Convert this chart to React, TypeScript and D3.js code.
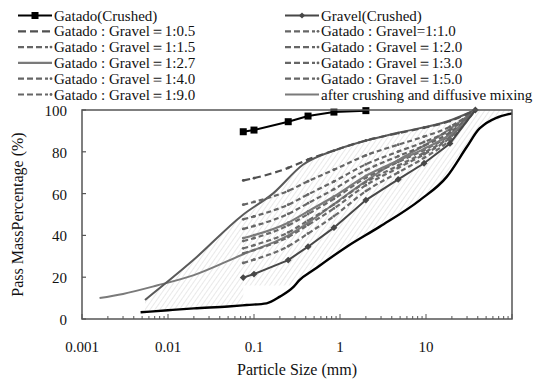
import React, { useRef, useEffect } from "react";
import * as d3 from "d3";

// sieve sizes (mm) used for the measured curves
const sieves = [0.075, 0.1, 0.25, 0.425, 0.85, 2, 4.75, 9.5, 19, 37.5];

const gatadoPass = [89.6, 90.4, 94.4, 97.1, 99, 99.7];
const gravelPass = [19.8, 21.5, 28.2, 34.6, 43.7, 56.9, 66.8, 74.5, 84, 100];

const mix05 = [66.3, 67.4, 72.3, 76.3, 80.6, 85.4, 88.9, 91.5, 94.7, 100];
const mix10 = [54.7, 56.0, 61.3, 65.9, 71.4, 78.3, 83.4, 87.3, 92.0, 100];
const mix15 = [47.7, 49.1, 54.7, 59.6, 65.8, 74.0, 80.1, 84.7, 90.4, 100];
const mix20 = [43.1, 44.5, 50.3, 55.4, 62.1, 71.2, 77.9, 83.0, 89.3, 100];
const mix27 = [38.7, 40.1, 46.1, 51.5, 58.6, 68.5, 75.8, 81.4, 88.3, 100];
const mix30 = [37.3, 38.7, 44.8, 50.2, 57.5, 67.6, 75.1, 80.9, 88.0, 100];
const mix40 = [33.8, 35.3, 41.4, 47.1, 54.8, 65.5, 73.4, 79.6, 87.2, 100];
const mix50 = [31.4, 33.0, 39.2, 45.0, 52.9, 64.0, 72.3, 78.8, 86.7, 100];
const mix90 = [26.8, 28.4, 34.8, 40.9, 49.2, 61.2, 70.1, 77.1, 85.6, 100];

// after crushing and diffusive mixing
const diffSize = [0.0016, 0.003, 0.0074, 0.02, 0.075, 0.25, 0.425, 0.85, 2, 4.75, 9.5, 19, 37.5];
const diffPass = [10, 12, 16, 21, 31, 40, 46, 55, 66, 76, 83, 91, 100];

// upper envelope of the shaded band
const upperSize = [0.0054, 0.0197, 0.074, 0.167, 0.37, 0.91, 2.2, 4.6, 19, 37.5];
const upperPass = [9.1, 28.2, 49.8, 60.1, 73.8, 81, 85.8, 89, 95, 100];

// lower black curve
const lowerSize = [0.0048, 0.01, 0.02, 0.05, 0.082, 0.14, 0.2, 0.29, 0.34, 0.49, 1.2, 2.9, 8.5, 17.4, 29.9, 42, 100];
const lowerPass = [3.2, 4.2, 5.1, 6, 6.7, 7.5, 10.7, 15.5, 18.7, 23.4, 34.6, 44.2, 56.9, 68, 82.4, 91.2, 98.4];

// shaded band outline
const bandTopSize = [0.0054, 0.0197, 0.074, 0.167, 0.37, 0.91, 2.2, 4.6, 19, 37.5, 100];
const bandTopPass = [9.1, 28.2, 49.8, 60.1, 73.8, 81, 85.8, 89, 95, 100, 100];
const bandBottomSize = [0.0054, 0.02, 0.075, 0.075, 0.29, 0.34, 0.49, 1.2, 2.9, 8.5, 17.4, 29.9, 42, 100];
const bandBottomPass = [3.4, 5.1, 6.5, 16, 16, 18.7, 23.4, 34.6, 44.2, 56.9, 68, 82.4, 91.2, 98.4];

const xTicks = [0.001, 0.01, 0.1, 1, 10];
const xTickLabels = ["0.001", "0.01", "0.1", "1", "10"];
const yTicks = [0, 20, 40, 60, 80, 100];

const leftLegend = [
  "Gatado(Crushed)",
  "Gatado : Gravel\uFF1D1:0.5",
  "Gatado : Gravel\uFF1D1:1.5",
  "Gatado : Gravel\uFF1D1:2.7",
  "Gatado : Gravel\uFF1D1:4.0",
  "Gatado : Gravel\uFF1D1:9.0",
];
const rightLegend = [
  "Gravel(Crushed)",
  "Gatado : Gravel=1:1.0",
  "Gatado : Gravel\uFF1D1:2.0",
  "Gatado : Gravel\uFF1D1:3.0",
  "Gatado : Gravel\uFF1D1:5.0",
  "after crushing and diffusive mixing",
];

const FONT = "Liberation Serif, DejaVu Serif, Times New Roman, serif";

const App = () => {
  const svgRef = useRef<SVGSVGElement>(null);

  useEffect(() => {
    const svg = d3.select(svgRef.current);
    svg.selectAll("*").remove();

    const width = 539;
    const height = 381;
    const margin = { top: 110, right: 27, bottom: 62, left: 82 };

    const x = d3.scaleLog().domain([0.001, 100]).range([margin.left, width - margin.right]);
    const y = d3.scaleLinear().domain([0, 100]).range([height - margin.bottom, margin.top]);

    svg.append("rect").attr("width", width).attr("height", height).attr("fill", "#fff");

    const defs = svg.append("defs");
    const pat = defs
      .append("pattern")
      .attr("id", "hatch")
      .attr("patternUnits", "userSpaceOnUse")
      .attr("width", 4)
      .attr("height", 4)
      .attr("patternTransform", "rotate(35)");
    pat.append("line")
      .attr("x1", 0).attr("y1", 0).attr("x2", 0).attr("y2", 4)
      .attr("stroke", "#dadada").attr("stroke-width", 1.2);

    const pts = (xs: number[], ys: number[]) => xs.map((d, i) => [d, ys[i]] as [number, number]);

    // shaded band
    const band = pts(bandTopSize, bandTopPass).concat(pts(bandBottomSize, bandBottomPass).reverse());
    svg.append("path")
      .attr("d", d3.line<[number, number]>().x((d) => x(d[0])).y((d) => y(d[1]))(band) + "Z")
      .attr("fill", "url(#hatch)");

    const smooth = d3.line<[number, number]>().x((d) => x(d[0])).y((d) => y(d[1])).curve(d3.curveMonotoneX);
    const straight = d3.line<[number, number]>().x((d) => x(d[0])).y((d) => y(d[1]));

    const g = svg.append("g");

    // diffusive mixing curve and upper envelope
    g.append("path").attr("d", smooth(pts(diffSize, diffPass)))
      .attr("fill", "none").attr("stroke", "#7a7a7a").attr("stroke-width", 2);
    g.append("path").attr("d", smooth(pts(upperSize, upperPass)))
      .attr("fill", "none").attr("stroke", "#5a5a5a").attr("stroke-width", 2);

    // mixture curves
    const mixes = [
      { v: mix90, dash: "5,3", color: "#6a6a6a" },
      { v: mix50, dash: "5,3", color: "#6a6a6a" },
      { v: mix40, dash: "5,3", color: "#6a6a6a" },
      { v: mix30, dash: "5,3", color: "#6a6a6a" },
      { v: mix27, dash: null, color: "#7a7a7a" },
      { v: mix20, dash: "5,3", color: "#666" },
      { v: mix15, dash: "5,3", color: "#666" },
      { v: mix10, dash: "5,3", color: "#666" },
      { v: mix05, dash: "7,4", color: "#505050" },
    ];
    mixes.forEach((m) => {
      const p = g.append("path").attr("d", smooth(pts(sieves, m.v)))
        .attr("fill", "none").attr("stroke", m.color).attr("stroke-width", 2.2);
      if (m.dash) p.attr("stroke-dasharray", m.dash);
      g.selectAll(null).data(pts(sieves, m.v)).enter().append("circle")
        .attr("cx", (d) => x(d[0])).attr("cy", (d) => y(d[1])).attr("r", 1.4)
        .attr("fill", m.color);
    });

    // gravel
    const gravel = pts(sieves, gravelPass);
    g.append("path").attr("d", straight(gravel))
      .attr("fill", "none").attr("stroke", "#474747").attr("stroke-width", 2);
    g.selectAll(null).data(gravel).enter().append("path")
      .attr("d", d3.symbol(d3.symbolDiamond2, 30)() as string)
      .attr("transform", (d) => `translate(${x(d[0])},${y(d[1])})`)
      .attr("fill", "#474747");

    // lower black curve
    g.append("path").attr("d", smooth(pts(lowerSize, lowerPass)))
      .attr("fill", "none").attr("stroke", "#000").attr("stroke-width", 2.4);

    // gatado
    const gatado = pts(sieves.slice(0, gatadoPass.length), gatadoPass);
    g.append("path").attr("d", straight(gatado))
      .attr("fill", "none").attr("stroke", "#000").attr("stroke-width", 2);
    g.selectAll(null).data(gatado).enter().append("rect")
      .attr("x", (d) => x(d[0]) - 3.5).attr("y", (d) => y(d[1]) - 3.5)
      .attr("width", 7).attr("height", 7).attr("fill", "#000");

    // frame and axes
    const x0 = margin.left, x1 = width - margin.right, y0 = height - margin.bottom, y1 = margin.top;
    svg.append("rect").attr("x", x0).attr("y", y1).attr("width", x1 - x0).attr("height", y0 - y1)
      .attr("fill", "none").attr("stroke", "#555").attr("stroke-width", 1.5);

    const minor: number[] = [];
    xTicks.forEach((t) => {
      for (let k = 2; k <= 9; k++) minor.push(t * k);
    });
    svg.selectAll(null).data(minor).enter().append("line")
      .attr("x1", (d) => x(d)).attr("x2", (d) => x(d))
      .attr("y1", y0).attr("y2", y0 - 3)
      .attr("stroke", "#555").attr("stroke-width", 1);
    svg.selectAll(null).data(xTicks.concat([100])).enter().append("line")
      .attr("x1", (d) => x(d)).attr("x2", (d) => x(d))
      .attr("y1", y0).attr("y2", y0 - 5)
      .attr("stroke", "#555").attr("stroke-width", 1);
    svg.selectAll(null).data(xTicks).enter().append("text")
      .attr("x", (d) => x(d)).attr("y", y0 + 33)
      .attr("text-anchor", "middle")
      .attr("font-family", FONT).attr("font-size", 15).attr("fill", "#111")
      .text((d, i) => xTickLabels[i]);

    svg.selectAll(null).data(yTicks).enter().append("line")
      .attr("x1", x0).attr("x2", x0 + 4)
      .attr("y1", (d) => y(d)).attr("y2", (d) => y(d))
      .attr("stroke", "#555").attr("stroke-width", 1.2);
    svg.selectAll(null).data(yTicks).enter().append("text")
      .attr("x", x0 - 15).attr("y", (d) => y(d) + 6)
      .attr("text-anchor", "end")
      .attr("font-family", FONT).attr("font-size", 15).attr("fill", "#111")
      .text((d) => String(d));

    svg.append("text")
      .attr("x", (x0 + x1) / 2).attr("y", 375)
      .attr("text-anchor", "middle")
      .attr("font-family", FONT).attr("font-size", 16).attr("fill", "#111")
      .text("Particle Size (mm)");
    svg.append("text")
      .attr("transform", `translate(23,${(y0 + y1) / 2}) rotate(-90)`)
      .attr("text-anchor", "middle")
      .attr("font-family", FONT).attr("font-size", 16).attr("fill", "#111")
      .text("Pass MassPercentage (%)");

    // legend
    const rowY = (i: number) => 15.5 + i * 15.8;
    const drawSymbol = (sx: number, sy: number, kind: string) => {
      const ln = svg.append("line").attr("x1", sx).attr("x2", sx + 34).attr("y1", sy).attr("y2", sy)
        .attr("stroke-width", 2.2);
      if (kind === "gatado") {
        ln.attr("stroke", "#000");
        svg.append("rect").attr("x", sx + 13.5).attr("y", sy - 3.5).attr("width", 7).attr("height", 7).attr("fill", "#000");
      } else if (kind === "gravel") {
        ln.attr("stroke", "#474747");
        svg.append("path").attr("d", d3.symbol(d3.symbolDiamond2, 24)() as string)
          .attr("transform", `translate(${sx + 17},${sy})`).attr("fill", "#474747");
      } else if (kind === "bold") {
        ln.attr("stroke", "#505050").attr("stroke-dasharray", "8,4");
      } else if (kind === "dash") {
        ln.attr("stroke", "#666").attr("stroke-dasharray", "6,3").attr("x2", sx + 30);
        svg.append("circle").attr("cx", sx + 33).attr("cy", sy).attr("r", 1.4).attr("fill", "#666");
      } else {
        ln.attr("stroke", "#7a7a7a");
      }
    };
    const leftKinds = ["gatado", "bold", "dash", "solid", "dash", "dash"];
    const rightKinds = ["gravel", "dash", "dash", "dash", "dash", "solid"];
    leftLegend.forEach((t, i) => {
      drawSymbol(18, rowY(i), leftKinds[i]);
      svg.append("text").attr("x", 54).attr("y", rowY(i) + 5)
        .attr("font-family", FONT).attr("font-size", 15).attr("fill", "#111").text(t);
    });
    rightLegend.forEach((t, i) => {
      drawSymbol(285, rowY(i), rightKinds[i]);
      svg.append("text").attr("x", 321).attr("y", rowY(i) + 5)
        .attr("font-family", FONT).attr("font-size", 15).attr("fill", "#111").text(t);
    });
  }, []);

  return (
    <svg
      ref={svgRef}
      width={539}
      height={381}
      style={{ position: "absolute", left: 0, top: 0, display: "block" }}
    />
  );
};

export default App;
